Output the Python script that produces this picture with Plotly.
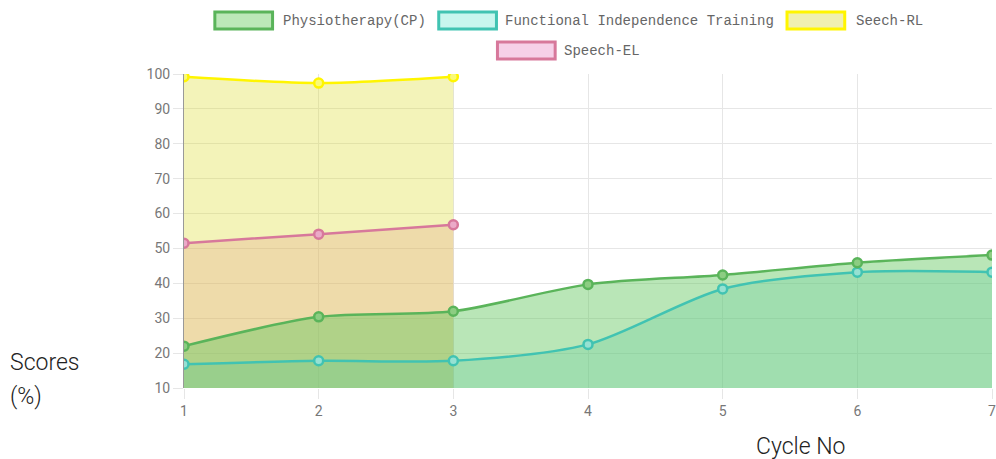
import plotly.graph_objects as go

cycles = [1, 2, 3, 4, 5, 6, 7]
physio = [22, 30.4, 32, 39.7, 42.4, 45.9, 48.1]
fit = [16.8, 17.8, 17.8, 22.5, 38.4, 43.2, 43.2]
speech_rl_x = [1, 2, 3]
speech_rl = [99.2, 97.4, 99.2]
speech_el_x = [1, 2, 3]
speech_el = [51.5, 54.1, 56.8]

names = ["Physiotherapy(CP)", "Functional Independence Training", "Seech-RL", "Speech-EL"]
line_colors = ["rgb(90,180,90)", "rgb(65,195,178)", "rgb(255,245,0)", "rgb(215,120,155)"]
fill_colors = ["rgba(100,200,95,0.45)", "rgba(75,200,200,0.25)",
               "rgba(215,215,30,0.31)", "rgba(230,130,180,0.28)"]
marker_fill = ["rgb(140,205,130)", "rgb(150,225,210)", "rgb(250,250,120)", "rgb(235,170,200)"]
legend_fill = ["rgb(188,232,184)", "rgb(200,246,238)", "rgb(240,240,176)", "rgb(246,208,232)"]

W, H = 996, 459
L, R, T, B = 184, 0, 74, 71
PW, PH = W - L - R, H - T - B


def px_x(p):
    return (p - L) / PW


def px_y(p):
    return (H - B - p) / PH


data = {
    0: (cycles, physio),
    1: (cycles, fit),
    2: (speech_rl_x, speech_rl),
    3: (speech_el_x, speech_el),
}

fig = go.Figure()
# fills first (last dataset at the bottom, like chart.js)
for i in [3, 2, 1, 0]:
    xs, ys = data[i]
    fig.add_trace(go.Scatter(
        x=xs, y=ys, mode="lines", line=dict(width=0, shape="spline", smoothing=0.8),
        fill="tozeroy", fillcolor=fill_colors[i], showlegend=False, hoverinfo="skip",
    ))
# lines and points on top
for i in [3, 2, 1, 0]:
    xs, ys = data[i]
    fig.add_trace(go.Scatter(
        x=xs, y=ys, name=names[i], mode="lines+markers",
        line=dict(color=line_colors[i], width=2.5, shape="spline", smoothing=0.8),
        marker=dict(size=9, color=marker_fill[i], line=dict(color=line_colors[i], width=2.5)),
        showlegend=False,
    ))

# manual chart.js-style legend
legend_items = [
    (215, 12, 281),
    (440, 12, 505),
    (790, 12, 857),
    (499, 42, 564),
]
for i, (bx, by, tx) in enumerate(legend_items):
    fig.add_shape(type="rect", xref="paper", yref="paper",
                  x0=px_x(bx), x1=px_x(bx + 58), y0=px_y(by), y1=px_y(by + 17),
                  fillcolor=legend_fill[i], line=dict(color=line_colors[i], width=3))
    fig.add_annotation(x=px_x(tx), y=px_y(by + 8.5), xref="paper", yref="paper",
                       text=names[i], showarrow=False, xanchor="left", yanchor="middle",
                       font=dict(family="Liberation Mono", size=14, color="#666"))

title_font = dict(family="Roboto", size=23, color="#222", weight=300)
fig.add_annotation(x=px_x(7), y=px_y(362), xref="paper", yref="paper", text="Scores",
                   showarrow=False, xanchor="left", yanchor="middle", font=title_font)
fig.add_annotation(x=px_x(7), y=px_y(396), xref="paper", yref="paper", text="(%)",
                   showarrow=False, xanchor="left", yanchor="middle", font=title_font)
fig.add_annotation(x=px_x(804), y=px_y(446), xref="paper", yref="paper", text="Cycle No",
                   showarrow=False, xanchor="center", yanchor="middle", font=title_font)

fig.update_layout(
    width=W, height=H, margin=dict(l=L, r=R, t=T, b=B),
    paper_bgcolor="white", plot_bgcolor="white", showlegend=False,
    font=dict(family="Roboto", size=14, color="#666"),
)
fig.update_xaxes(range=[1, 7], tickvals=cycles, showgrid=True, gridcolor="#e6e6e6",
                 ticks="outside", ticklen=10, tickcolor="#e6e6e6", zeroline=False,
                 showline=False, ticklabeloverflow="allow",
                 tickfont=dict(size=14, color="#777"))
fig.update_yaxes(range=[10, 100], dtick=10, showgrid=True, gridcolor="#e6e6e6",
                 ticks="outside", ticklen=10, tickcolor="#e6e6e6", zeroline=False,
                 showline=True, linecolor="#999", linewidth=1,
                 tickfont=dict(size=14, color="#777"))

fig.write_html(
    "out.html",
    config={"displayModeBar": False},
    post_script="document.body.style.margin='0';document.body.style.overflow='hidden';",
)
